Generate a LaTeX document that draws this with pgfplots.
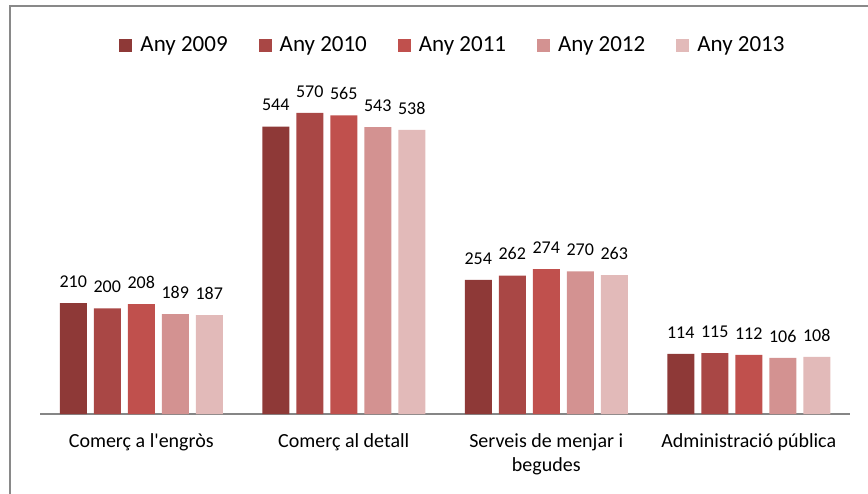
\documentclass[border=0pt]{standalone}
\usepackage{pgfplots}
\pgfplotsset{compat=1.18}
\usepackage{fontspec}
\setmainfont{Carlito}[Ligatures=TeXOff]
\definecolor{c09}{HTML}{8E3937}
\definecolor{c10}{HTML}{A94745}
\definecolor{c11}{HTML}{C0504D}
\definecolor{c12}{HTML}{D39291}
\definecolor{c13}{HTML}{E2BAB9}
\definecolor{framegray}{HTML}{898989}
\definecolor{axgray}{HTML}{868686}
\pgfplotsset{
  sqlegend/.style={legend image code/.code={\fill[##1] (0pt,-6.5pt) rectangle (13pt,6.5pt);}}
}
\begin{document}
\begin{tikzpicture}
\useasboundingbox (0pt,0pt) rectangle (868pt,493pt);
\draw[color=framegray, line width=2pt] (10pt,-2pt) -- (10pt,487pt) -- (872pt,487pt);
\begin{axis}[
  at={(40pt,79pt)}, anchor=south west,
  scale only axis, width=810pt, height=317pt,
  xmin=-0.5, xmax=3.5, ymin=0, ymax=600,
  ybar=7pt, bar width=27pt,
  axis y line=none,
  axis x line*=bottom,
  x axis line style={-, color=axgray, line width=1.6pt},
  xtick={0,1,2,3},
  xticklabels={{Comerç a l'engròs},{Comerç al detall},{Serveis de menjar i\\begudes},{Administració pública}},
  xticklabel style={align=center, font=\fontsize{20}{24.5}\selectfont, yshift=-16pt},
  major tick length=0pt,
  clip=false,
  nodes near coords,
  /pgf/number format/assume math mode=true,
  every node near coord/.append style={font=\fontsize{18}{20}\selectfont, color=black, yshift=12pt},
  sqlegend,
  legend columns=5,
  legend style={draw=none, fill=none, at={(0.5,1.164)}, anchor=center, xshift=8pt,
    font=\fontsize{23}{26}\selectfont,
    /tikz/every odd column/.append style={column sep=6pt},
    /tikz/every even column/.append style={column sep=29pt}},
]
\addplot[fill=c09, draw=none] coordinates {(0,210) (1,544) (2,254) (3,114)};
\addplot[fill=c10, draw=none] coordinates {(0,200) (1,570) (2,262) (3,115)};
\addplot[fill=c11, draw=none] coordinates {(0,208) (1,565) (2,274) (3,112)};
\addplot[fill=c12, draw=none] coordinates {(0,189) (1,543) (2,270) (3,106)};
\addplot[fill=c13, draw=none] coordinates {(0,187) (1,538) (2,263) (3,108)};
\legend{Any 2009, Any 2010, Any 2011, Any 2012, Any 2013}
\end{axis}
\end{tikzpicture}
\end{document}
